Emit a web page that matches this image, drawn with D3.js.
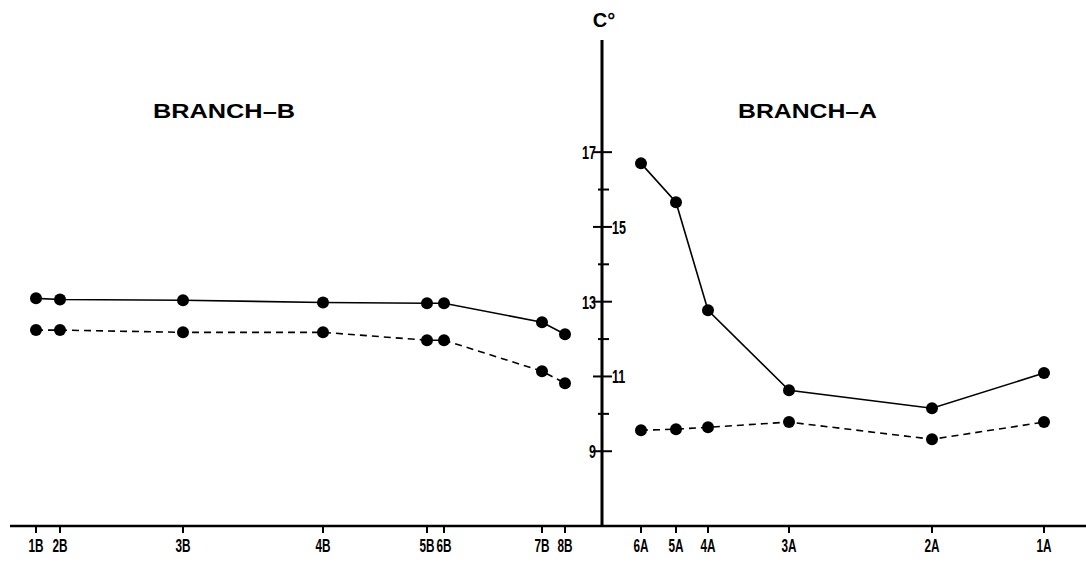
<!DOCTYPE html>
<html>
<head>
<meta charset="utf-8">
<script src="https://cdn.jsdelivr.net/npm/d3@7"></script>
<style>
  body { margin: 0; background: #fff; }
  svg text { fill: #000; }
  .lbl { font-family: "Liberation Sans", Arial, sans-serif; font-size: 19px; font-weight: bold; }
  .ttl { font-family: "Liberation Sans", Arial, sans-serif; font-weight: bold; }
</style>
</head>
<body>
<div id="chart"></div>
<script>
// stations, distance from the junction (B to the left, A to the right)
var stationsB = ["1B", "2B", "3B", "4B", "5B", "6B", "7B", "8B"];
var distB = [56.6, 54.2, 41.9, 27.9, 17.5, 15.8, 6.0, 3.7];
var solidB = [13.09, 13.06, 13.04, 12.98, 12.96, 12.96, 12.45, 12.13];
var dashB = [12.24, 12.24, 12.18, 12.18, 11.97, 11.97, 11.14, 10.82];

var stationsA = ["6A", "5A", "4A", "3A", "2A", "1A"];
var distA = [3.9, 7.4, 10.6, 18.7, 33.0, 44.2];
var solidA = [16.70, 15.66, 12.77, 10.63, 10.15, 11.09];
var dashA = [9.56, 9.59, 9.64, 9.78, 9.32, 9.78];

var yTicks = [9, 10, 11, 12, 13, 14, 15, 16, 17];

var w = 1086;
var h = 563;

var svg = d3.select("#chart")
			.append("svg")
			.attr("width", w)
			.attr("height", h);

var x = d3.scaleLinear().domain([-60, 48.4]).range([2, 1086]);
var y = d3.scaleLinear().domain([7, 20]).range([526, 40]);

// build station records (B gets negative positions)
var rows = [];
stationsB.forEach((s, i) => rows.push({name: s, pos: -distB[i], solid: solidB[i], dash: dashB[i], br: "B"}));
stationsA.forEach((s, i) => rows.push({name: s, pos: distA[i], solid: solidA[i], dash: dashA[i], br: "A"}));

// x axis
svg.append("line")
	.attr("x1", 10).attr("x2", w)
	.attr("y1", y(7)).attr("y2", y(7))
	.attr("stroke", "#000").attr("stroke-width", 2.6);

svg.selectAll(".xt")
	.data(rows)
	.enter()
	.append("line")
	.attr("x1", d => x(d.pos)).attr("x2", d => x(d.pos))
	.attr("y1", y(7)).attr("y2", y(7) + 7)
	.attr("stroke", "#000").attr("stroke-width", 2);

// condensed labels (no narrow font installed, squeeze horizontally)
svg.selectAll(".xl")
	.data(rows)
	.enter()
	.append("text")
	.attr("class", "lbl")
	.attr("transform", d => "translate(" + x(d.pos) + ",552) scale(0.62,1)")
	.attr("text-anchor", "middle")
	.text(d => d.name);

// y axis
svg.append("line")
	.attr("x1", x(0)).attr("x2", x(0))
	.attr("y1", y(20)).attr("y2", y(7))
	.attr("stroke", "#000").attr("stroke-width", 3);

svg.selectAll(".yt")
	.data(yTicks)
	.enter()
	.append("line")
	.attr("x1", d => x(0) - (d % 2 ? 9 : 4))
	.attr("x2", d => x(0) + (d % 2 ? 10 : 7))
	.attr("y1", d => y(d)).attr("y2", d => y(d))
	.attr("stroke", "#000").attr("stroke-width", 2);

svg.selectAll(".yl")
	.data(yTicks.filter(d => d % 2))
	.enter()
	.append("text")
	.attr("class", "lbl")
	.attr("transform", d => "translate(" + ((d % 4 == 1) ? x(0) - 6 : x(0) + 10) + "," + (y(d) + 7) + ") scale(0.66,1)")
	.attr("text-anchor", d => (d % 4 == 1) ? "end" : "start")
	.text(d => d);

svg.append("text")
	.attr("class", "ttl")
	.attr("x", x(0) + 2)
	.attr("y", 27)
	.attr("text-anchor", "middle")
	.style("font-size", "20px")
	.text("C°");

// titles
svg.append("text")
	.attr("class", "ttl")
	.attr("x", 153).attr("y", 118)
	.style("font-size", "20px")
	.attr("textLength", 142)
	.attr("lengthAdjust", "spacingAndGlyphs")
	.text("BRANCH–B");

svg.append("text")
	.attr("class", "ttl")
	.attr("x", 738).attr("y", 118)
	.style("font-size", "20px")
	.attr("textLength", 139)
	.attr("lengthAdjust", "spacingAndGlyphs")
	.text("BRANCH–A");

// series
var lineSolid = d3.line().x(d => x(d.pos)).y(d => y(d.solid));
var lineDash = d3.line().x(d => x(d.pos)).y(d => y(d.dash));

["B", "A"].forEach(br => {
	var sub = rows.filter(d => d.br == br);
	svg.append("path")
		.attr("d", lineSolid(sub))
		.attr("fill", "none")
		.attr("stroke", "#000")
		.attr("stroke-width", 1.6);
	svg.append("path")
		.attr("d", lineDash(sub))
		.attr("fill", "none")
		.attr("stroke", "#000")
		.attr("stroke-width", 1.6)
		.attr("stroke-dasharray", "7,5");
});

svg.selectAll(".ds")
	.data(rows)
	.enter()
	.append("circle")
	.attr("cx", d => x(d.pos))
	.attr("cy", d => y(d.solid))
	.attr("r", 6);

svg.selectAll(".dd")
	.data(rows)
	.enter()
	.append("circle")
	.attr("cx", d => x(d.pos))
	.attr("cy", d => y(d.dash))
	.attr("r", 6);
</script>
</body>
</html>
